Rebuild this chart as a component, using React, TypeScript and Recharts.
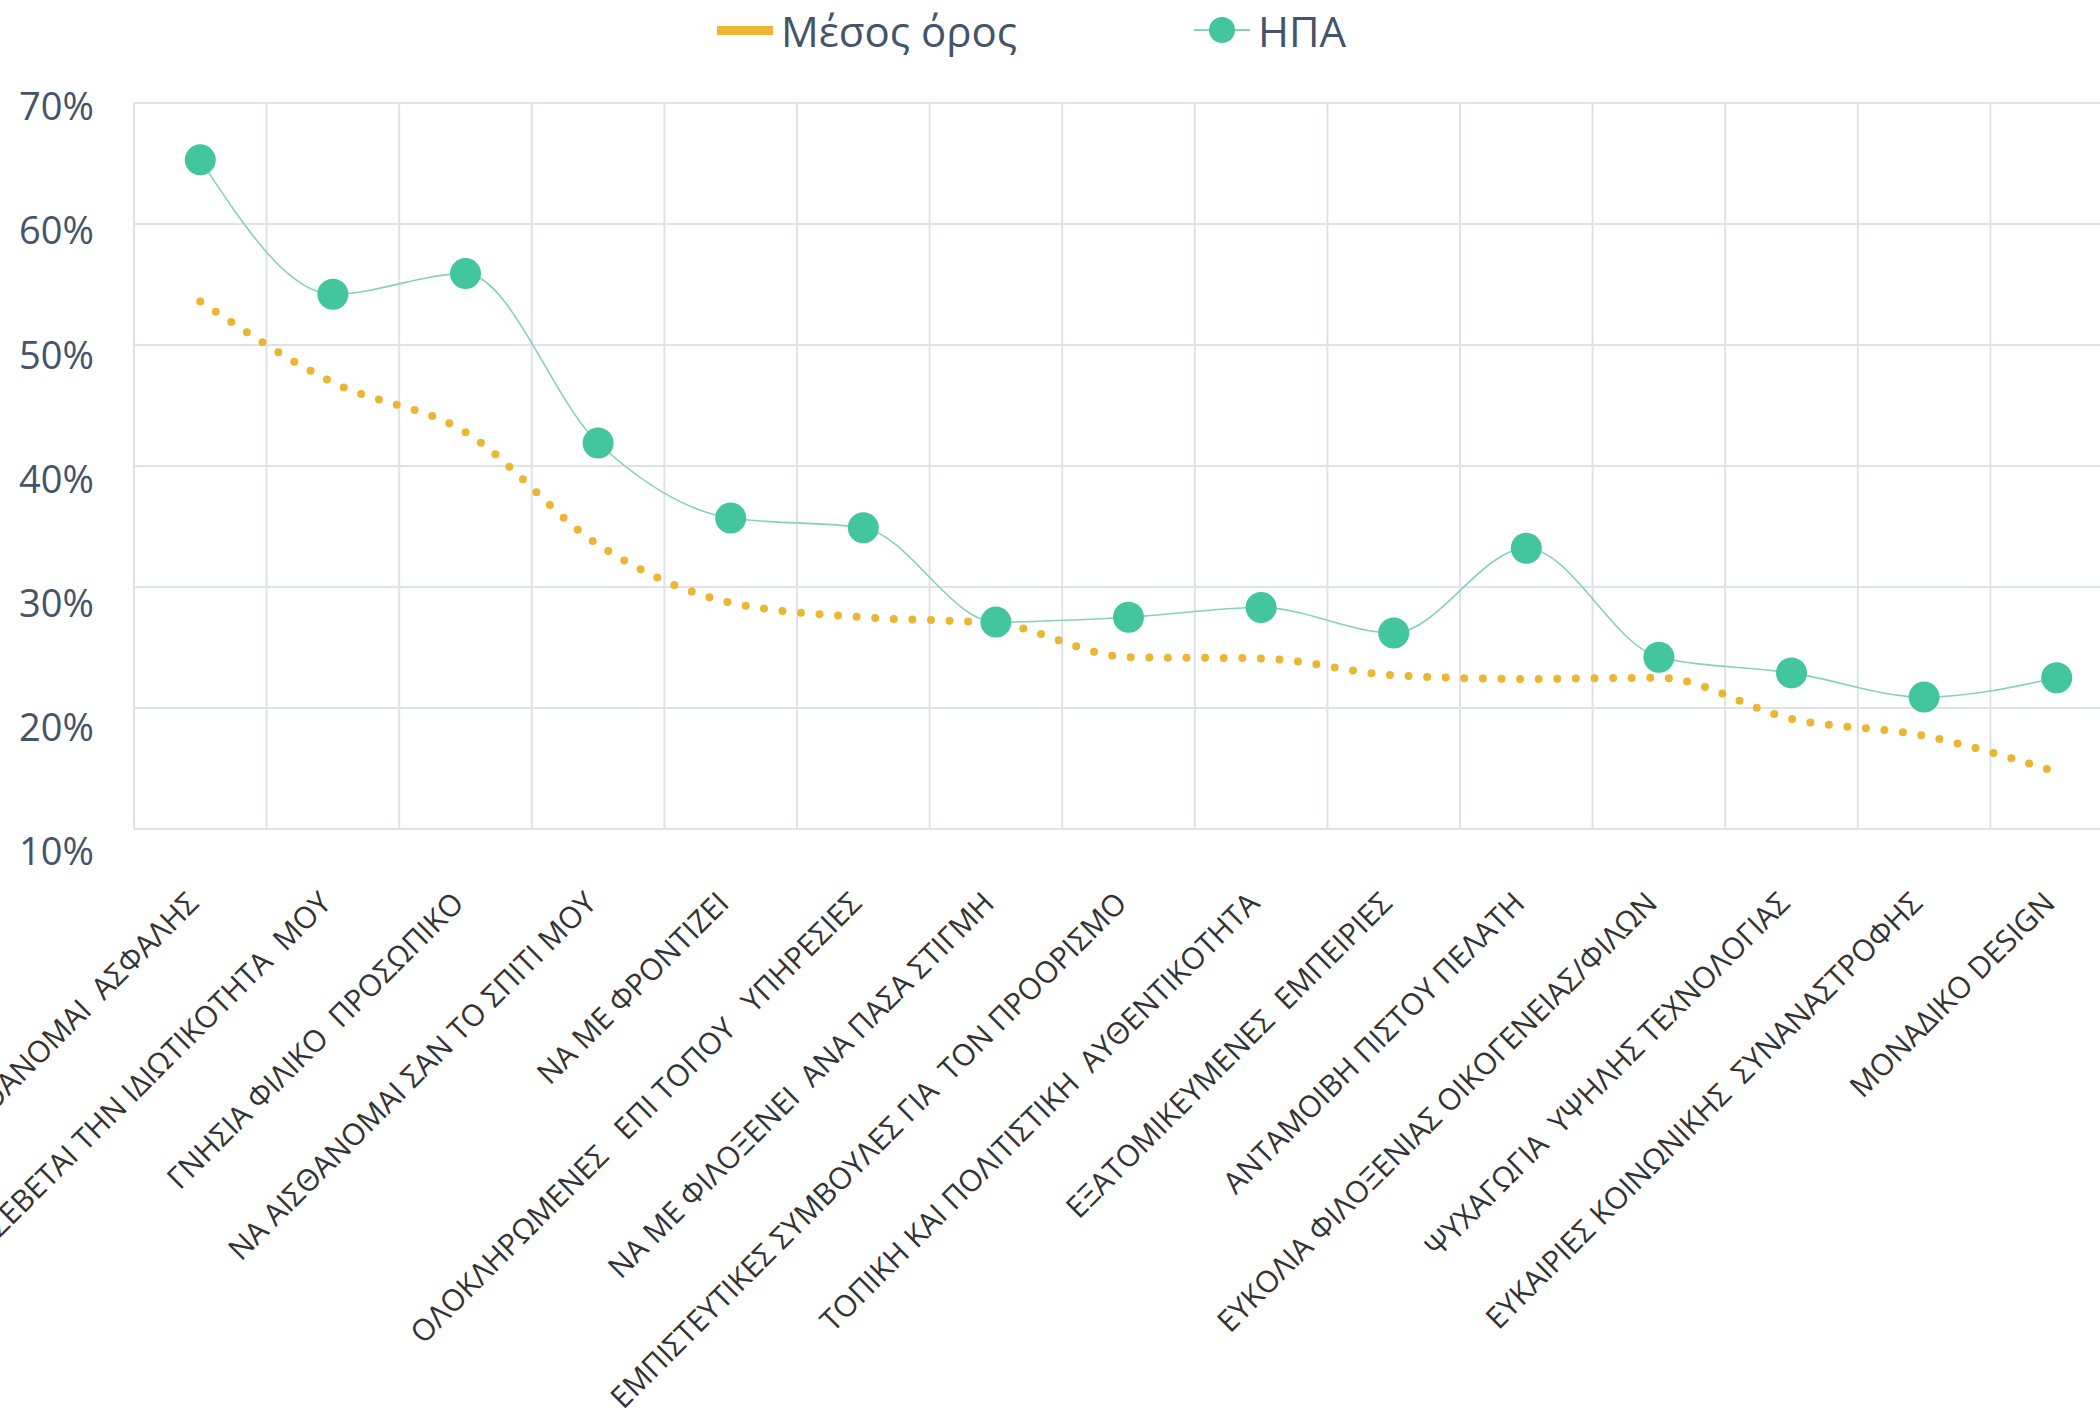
import React from 'react'
import { LineChart, Line, XAxis, YAxis, CartesianGrid, Legend } from 'recharts'

const categories = [
  'ΝΑ ΑΙΣΘΑΝΟΜΑΙ  ΑΣΦΑΛΗΣ',
  'ΝΑ ΣΕΒΕΤΑΙ ΤΗΝ ΙΔΙΩΤΙΚΟΤΗΤΑ  ΜΟΥ',
  'ΓΝΗΣΙΑ ΦΙΛΙΚΟ  ΠΡΟΣΩΠΙΚΟ',
  'ΝΑ ΑΙΣΘΑΝΟΜΑΙ ΣΑΝ ΤΟ ΣΠΙΤΙ ΜΟΥ',
  'ΝΑ ΜΕ ΦΡΟΝΤΙΖΕΙ',
  'ΟΛΟΚΛΗΡΩΜΕΝΕΣ   ΕΠΙ ΤΟΠΟΥ   ΥΠΗΡΕΣΙΕΣ',
  'ΝΑ ΜΕ ΦΙΛΟΞΕΝΕΙ  ΑΝΑ ΠΑΣΑ ΣΤΙΓΜΗ',
  'ΕΜΠΙΣΤΕΥΤΙΚΕΣ ΣΥΜΒΟΥΛΕΣ ΓΙΑ  ΤΟΝ ΠΡΟΟΡΙΣΜΟ',
  'ΤΟΠΙΚΗ ΚΑΙ ΠΟΛΙΤΙΣΤΙΚΗ  ΑΥΘΕΝΤΙΚΟΤΗΤΑ',
  'ΕΞΑΤΟΜΙΚΕΥΜΕΝΕΣ  ΕΜΠΕΙΡΙΕΣ',
  'ΑΝΤΑΜΟΙΒΗ ΠΙΣΤΟΥ ΠΕΛΑΤΗ',
  'ΕΥΚΟΛΙΑ ΦΙΛΟΞΕΝΙΑΣ ΟΙΚΟΓΕΝΕΙΑΣ/ΦΙΛΩΝ',
  'ΨΥΧΑΓΩΓΙΑ  ΥΨΗΛΗΣ ΤΕΧΝΟΛΟΓΙΑΣ',
  'ΕΥΚΑΙΡΙΕΣ ΚΟΙΝΩΝΙΚΗΣ  ΣΥΝΑΝΑΣΤΡΟΦΗΣ',
  'ΜΟΝΑΔΙΚΟ DESIGN',
]

// percentages
const average = [53.6, 46.9, 42.8, 33.5, 28.7, 27.5, 27.0, 24.2, 24.1, 22.7, 22.4, 22.5, 19.1, 17.7, 14.7]
const usa = [65.3, 54.2, 55.9, 41.9, 35.7, 34.9, 27.1, 27.5, 28.3, 26.2, 33.2, 24.2, 22.9, 20.9, 22.5]
const yTicks = [10, 20, 30, 40, 50, 60, 70]

const data = categories.map((name, i) => ({ name, avg: average[i], usa: usa[i] }))

const CHART_W = 2130
const CHART_H = 1411
const MARGIN = { top: 103, right: 7, bottom: 0, left: 0 }
const Y_W = 134
const plotW = CHART_W - MARGIN.left - MARGIN.right - Y_W
const half = plotW / categories.length / 2

const GOLD = '#EBB633'
const GREEN = '#43C59E'
const GREEN_LINE = '#86D2B9'
const GRID = '#DEE3EB'
const TEXT = '#44546A'

const YTick = ({ x, y, payload, index }: any) => (
  <text x={x} y={y + 23 - index * 3.2} dy="0.355em" textAnchor="end" fill={TEXT}
    fontSize={38} fontFamily="'Open Sans', sans-serif">
    {payload.value}%
  </text>
)

const XTick = ({ x, y, payload }: any) => (
  <g transform={`translate(${x},${y})`}>
    <text x={0} y={0} textAnchor="end" transform="rotate(-45)" fill="#333333"
      fontSize={30} fontFamily="'Open Sans', sans-serif" style={{ whiteSpace: 'pre' }}>
      {payload.value}
    </text>
  </g>
)

const LegendBox = () => (
  <div style={{ position: 'relative', height: 0, fontFamily: "'Open Sans', sans-serif", fontSize: 42, color: TEXT }}>
    <div style={{ position: 'absolute', left: 717, top: 0, display: 'flex', alignItems: 'center', height: 60, whiteSpace: 'nowrap' }}>
      <span style={{ display: 'inline-block', width: 56, height: 9, background: GOLD, marginRight: 8 }} />
      <span>Μέσος όρος</span>
    </div>
    <div style={{ position: 'absolute', left: 1194, top: 0, display: 'flex', alignItems: 'center', height: 60, whiteSpace: 'nowrap' }}>
      <svg width={56} height={30} style={{ marginRight: 8 }}>
        <line x1={0} y1={15} x2={56} y2={15} stroke={GREEN_LINE} strokeWidth={2} />
        <circle cx={28} cy={15} r={13} fill={GREEN} />
      </svg>
      <span>ΗΠΑ</span>
    </div>
  </div>
)

export default function App() {
  return (
    <div style={{ position: 'absolute', left: 0, top: 0, width: 2100, height: 1411, overflow: 'hidden', background: '#fff' }}>
      <LineChart width={CHART_W} height={CHART_H} data={data} margin={MARGIN}>
        <CartesianGrid
          stroke={GRID}
          strokeWidth={2}
          verticalCoordinatesGenerator={({ offset }: any) =>
            categories.map((_, i) => offset.left + (i * offset.width) / categories.length)
          }
        />
        <XAxis
          dataKey="name"
          interval={0}
          padding={{ left: half, right: half }}
          height={CHART_H - MARGIN.top - 726}
          tick={<XTick />}
          tickLine={false}
          tickSize={0}
          tickMargin={76}
          axisLine={{ stroke: GRID, strokeWidth: 2 }}
        />
        <YAxis
          type="number"
          domain={[10, 70]}
          ticks={yTicks}
          width={Y_W}
          tick={<YTick />}
          tickLine={false}
          tickSize={0}
          tickMargin={40}
          axisLine={{ stroke: GRID, strokeWidth: 2 }}
          interval={0}
        />
        <Legend verticalAlign="top" content={<LegendBox />} wrapperStyle={{ top: 0, left: 0, width: 2100, height: 0 }} />
        <Line
          name="Μέσος όρος"
          dataKey="avg"
          type="monotone"
          stroke={GOLD}
          strokeWidth={8}
          strokeDasharray="0 18.6"
          strokeLinecap="round"
          dot={false}
          activeDot={false}
          isAnimationActive={false}
        />
        <Line
          name="ΗΠΑ"
          dataKey="usa"
          type="monotone"
          stroke={GREEN_LINE}
          strokeWidth={1.6}
          dot={{ r: 15.5, fill: GREEN, stroke: 'none' }}
          activeDot={false}
          isAnimationActive={false}
        />
      </LineChart>
    </div>
  )
}
